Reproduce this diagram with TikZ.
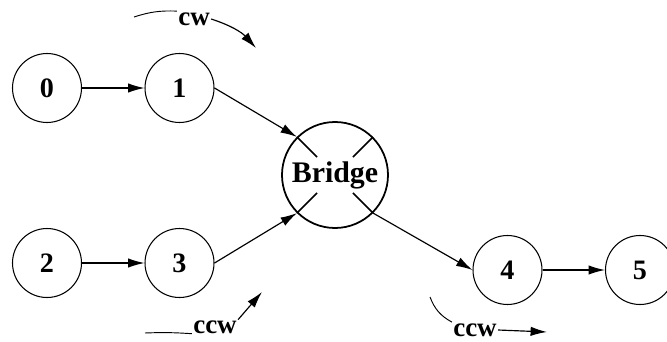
\documentclass[tikz,border=0pt]{standalone}
\usepackage{fontspec}
\setmainfont{Liberation Serif}
\usetikzlibrary{positioning, arrows.meta, calc}
\tikzset{
    vertex/.style={
        draw, circle, line width=0.9pt,
        minimum size=2.07cm, inner sep=0pt,
        font=\fontsize{24}{26}\selectfont\bfseries
    },
    hub/.style={
        draw, circle, line width=1.5pt,
        minimum size=3.18cm, inner sep=0pt,
        font=\fontsize{25.5}{28}\selectfont\bfseries
    },
    dirlabel/.style={inner sep=1pt, font=\fontsize{23}{25}\selectfont\bfseries},
    line/.style={-{Latex[length=14pt,width=8pt]}, line width=1pt}
}
\begin{document}
\begin{tikzpicture}[x=0.03cm, y=-0.03cm, on grid]
\useasboundingbox (0,0) rectangle (667,342);

% Left rings
\node[vertex] (n0) at (47,88) {0};
\node[vertex, right=3.975cm of n0] (n1) {1};
\node[vertex, below=5.25cm of n0] (n2) {2};
\node[vertex, right=3.975cm of n2] (n3) {3};

% Bridge node with its cross marks
\node[hub] (bridge) at (335,175) {Bridge};
\foreach \a in {north west, north east, south west, south east}
    \draw[line width=1.5pt] (bridge.\a) -- ($(bridge.center)!0.47!(bridge.\a)$);

% Right ring
\node[vertex] (n4) at (507.5,270) {4};
\node[vertex, right=3.975cm of n4] (n5) {5};

% Lines
\draw[line] (n0) -- (n1);
\draw[line] (n2) -- (n3);
\draw[line] (n1.east) -- (bridge.north west);
\draw[line] (n3.east) -- (bridge.south west);
\draw[line] (bridge.south east) -- (n4.west);
\draw[line] (n4) -- (n5);

% Direction marks
\node[dirlabel] (cw) at (194,19) {cw};
\coordinate (cwfrom) at (134,17);
\coordinate (cwto) at (256,48);
\draw[line width=0.8pt] (cwfrom) to[bend left=10] (cw.north west);
\draw[line] (cw.east) to[bend left=15] (cwto);

\node[dirlabel] (ccwa) at (215,327.5) {ccw};
\coordinate (ccwafrom) at (145,333);
\coordinate (ccwato) at (262,292);
\draw[line width=0.8pt] (ccwafrom) to[bend left=3] (ccwa.base west);
\draw[line] (ccwa.north east) -- (ccwato);

\node[dirlabel] (ccwb) at (475,330) {ccw};
\coordinate (ccwbfrom) at (430,297);
\coordinate (ccwbto) at (547,332);
\draw[line width=0.8pt] (ccwbfrom) to[bend right=20] (ccwb.north west);
\draw[line] (ccwb.east) -- (ccwbto);

\end{tikzpicture}
\end{document}
